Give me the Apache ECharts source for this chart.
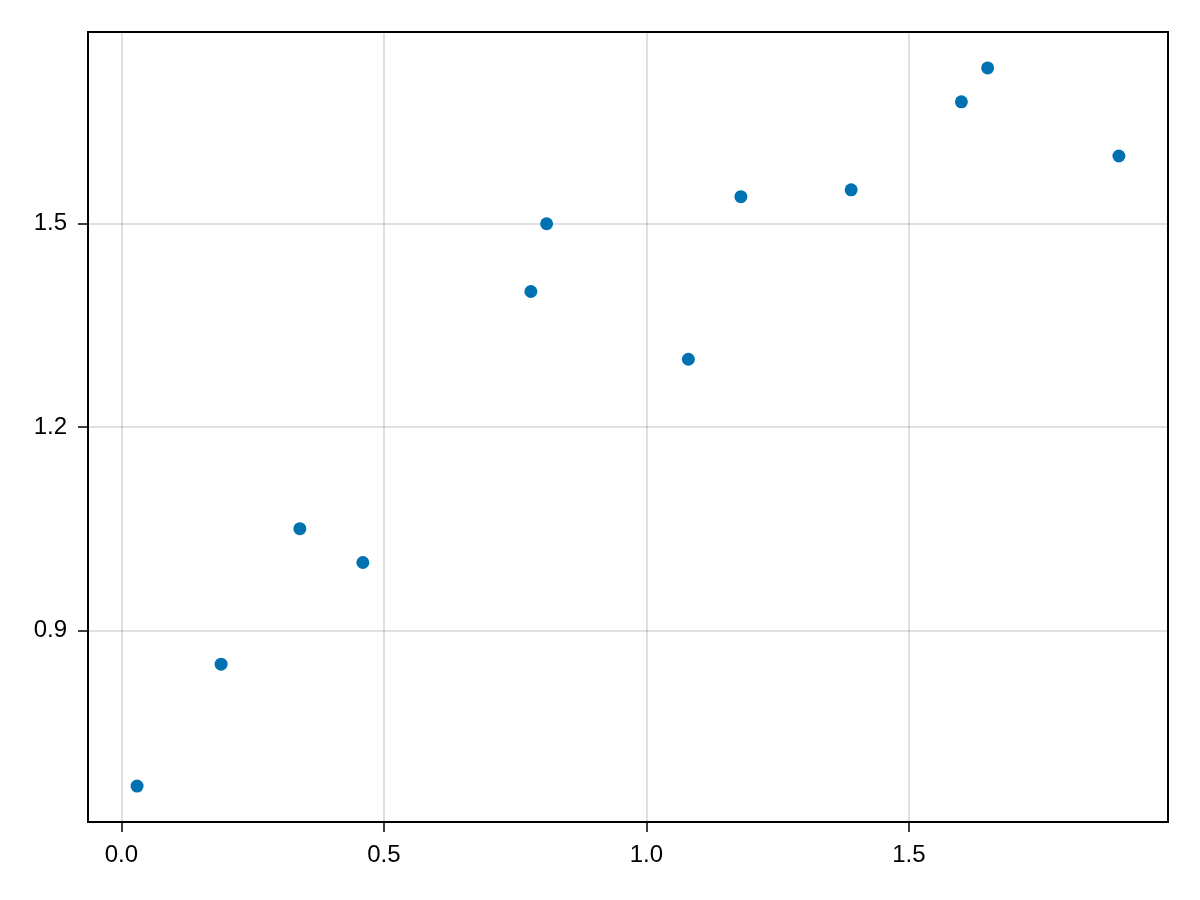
<!DOCTYPE html>
<html>
<head>
<meta charset="utf-8">
<script src="https://cdn.jsdelivr.net/npm/echarts@6/dist/echarts.min.js"></script>
<style>html,body{margin:0;padding:0;background:#fff;}#c{width:1200px;height:900px;}</style>
</head>
<body>
<div id="c"></div>
<script>
const xValues = [0.03, 0.19, 0.34, 0.46, 0.78, 0.81, 1.08, 1.18, 1.39, 1.60, 1.65, 1.90];
const yValues = [0.67, 0.85, 1.05, 1.00, 1.40, 1.50, 1.30, 1.54, 1.55, 1.68, 1.73, 1.60];
const xTicks = [0, 0.5, 1.0, 1.5];
const yTicks = [0.9, 1.2, 1.5];

function pad(arr) {
  const lo = Math.min(...arr), hi = Math.max(...arr), m = (hi - lo) * 0.05;
  return [lo - m, hi + m];
}
const [xMin, xMax] = pad(xValues);
const [yMin, yMax] = pad(yValues);

const chart = echarts.init(document.getElementById('c'), null, {renderer: 'canvas'});
const font = '"Liberation Sans", Arial, Helvetica, sans-serif';
const axisCommon = {
  type: 'value',
  axisLine: {show: false, onZero: false},
  axisTick: {show: true, inside: false, length: 10, lineStyle: {color: '#000', width: 1.5}},
  splitLine: {show: true, lineStyle: {color: 'rgba(0,0,0,0.12)', width: 2}},
  axisLabel: {color: '#000', fontSize: 24, fontFamily: font, margin: 21,
    formatter: v => v.toFixed(1)}
};
chart.setOption({
  animation: false,
  backgroundColor: '#fff',
  grid: {left: 88, top: 32, width: 1080, height: 790, show: true, borderColor: '#000', borderWidth: 2, backgroundColor: 'transparent'},
  xAxis: Object.assign({}, axisCommon, {
    min: xMin, max: xMax,
    axisTick: Object.assign({}, axisCommon.axisTick, {customValues: xTicks}),
    axisLabel: Object.assign({}, axisCommon.axisLabel, {customValues: xTicks})
  }),
  yAxis: Object.assign({}, axisCommon, {
    min: yMin, max: yMax,
    axisTick: Object.assign({}, axisCommon.axisTick, {customValues: yTicks}),
    axisLabel: Object.assign({}, axisCommon.axisLabel, {customValues: yTicks})
  }),
  series: [{
    type: 'scatter',
    data: xValues.map((x, i) => [x, yValues[i]]),
    symbol: 'circle',
    symbolSize: 13,
    itemStyle: {color: '#0072B2', opacity: 1}
  }]
});
</script>
</body>
</html>
